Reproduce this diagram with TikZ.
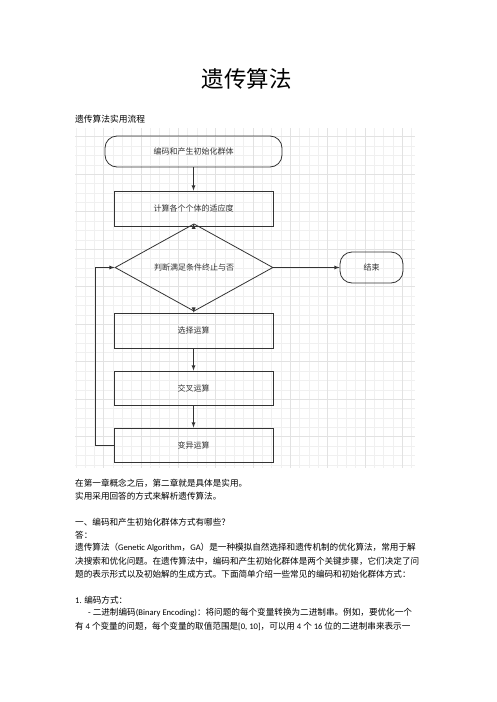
\documentclass[tikz,border=0pt]{standalone}
\usepackage{fontspec}
\setmainfont{Noto Sans CJK SC}
\newfontfamily\enfont{Carlito}
\usepackage{tikz}
\usetikzlibrary{arrows}
\usetikzlibrary{shapes.geometric}
\newcommand{\en}[1]{{\enfont #1}}
\definecolor{gridminor}{HTML}{F0F0F0}
\definecolor{gridmajor}{HTML}{E2E2E2}
\definecolor{flowline}{HTML}{333333}
\tikzset{
  flowbox/.style = {draw=flowline, line width=0.8pt, minimum width=159pt, minimum height=35pt, inner sep=0, font=\fontsize{8}{10}\selectfont, text=flowline},
  termbox/.style = {flowbox, rounded corners=12pt},
  decbox/.style = {flowbox, diamond, minimum width=158pt, minimum height=43pt},
  flowarrow/.style = {draw=flowline, line width=0.8pt, -latex},
  txtline/.style = {anchor=west, inner sep=0, font=\fontsize{8.6}{13}\selectfont}
}

\begin{document}
\begin{tikzpicture}[x=1pt, y=-1pt]
    \fill[white] (0, 0) rectangle (496, 702);
    \useasboundingbox (0, 0) rectangle (496, 702);

    % heading
    \node[font=\fontsize{22.5}{26}\selectfont] (title) at (246.5, 79) {遗传算法};
    \node[txtline, font=\fontsize{8.75}{12}\selectfont] (subtitle) at (75, 119) {遗传算法实用流程};

    % grid behind the chart
    \begin{scope}
      \clip (75, 128) rectangle (415, 468);
      \foreach \k in {0,...,36}
        \draw[gridminor, line width=0.5pt] ({75.75 + 9.33*\k}, 128) -- ({75.75 + 9.33*\k}, 468);
      \foreach \k in {-1,...,35}
        \draw[gridminor, line width=0.5pt] (75, {136.7 + 9.375*\k}) -- (415, {136.7 + 9.375*\k});
      \foreach \k in {3,7,...,35}
        \draw[gridmajor, line width=0.5pt] ({75.75 + 9.33*\k}, 128) -- ({75.75 + 9.33*\k}, 468);
      \foreach \k in {0,4,...,32}
        \draw[gridmajor, line width=0.5pt] (75, {136.7 + 9.375*\k}) -- (415, {136.7 + 9.375*\k});
    \end{scope}

    % flow chart
    \node[termbox, minimum width=177pt, minimum height=31pt] (init) at (193.5, 151.5) {编码和产生初始化群体};
    \node[flowbox] (fitness) at (193.5, 208.5) {计算各个个体的适应度};
    \node[decbox] (check) at (194, 267.5) {判断满足条件终止与否};
    \node[termbox, minimum width=63pt, minimum height=31pt] (stop) at (371.5, 267.5) {结束};
    \node[flowbox] (select) at (193.5, 330.5) {选择运算};
    \node[flowbox, minimum height=34pt] (cross) at (193.5, 388) {交叉运算};
    \node[flowbox, minimum height=34pt] (mutate) at (193.5, 445) {变异运算};
    \coordinate (back) at (95, 445);

    \draw[flowarrow] (init) -- (fitness);
    \draw[flowarrow] (fitness) -- (check);
    \draw[flowarrow] (check) -- (stop);
    \draw[flowarrow] (check) -- (select);
    \draw[flowarrow] (select) -- (cross);
    \draw[flowarrow] (cross) -- (mutate);
    \draw[flowarrow] (mutate.west) -- (back) |- (check.west);

    % body text
    \node[txtline] (l1) at (75, 483) {在第一章概念之后，第二章就是具体是实用。};
    \node[txtline] (l2) at (75, 496) {实用采用回答的方式来解析遗传算法。};
    \node[txtline] (l3) at (75, 522) {一、编码和产生初始化群体方式有哪些？};
    \node[txtline] (l4) at (75, 535) {答：};
    \node[txtline] (l5) at (75, 548) {遗传算法（\en{Genetic Algorithm}，\en{GA}）是一种模拟自然选择和遗传机制的优化算法，常用于解};
    \node[txtline] (l6) at (75, 561) {决搜索和优化问题。在遗传算法中，编码和产生初始化群体是两个关键步骤，它们决定了问};
    \node[txtline] (l7) at (75, 574) {题的表示形式以及初始解的生成方式。下面简单介绍一些常见的编码和初始化群体方式：};
    \node[txtline] (l8) at (75, 600) {\en{1.} 编码方式：};
    \node[txtline] (l9) at (88, 613) {\en{-} 二进制编码\en{(Binary Encoding)}：将问题的每个变量转换为二进制串。例如，要优化一个};
    \node[txtline] (l10) at (75, 626) {有 \en{4} 个变量的问题，每个变量的取值范围是\en{[0, 10]}，可以用 \en{4} 个 \en{16} 位的二进制串来表示一};

\end{tikzpicture}
\end{document}
